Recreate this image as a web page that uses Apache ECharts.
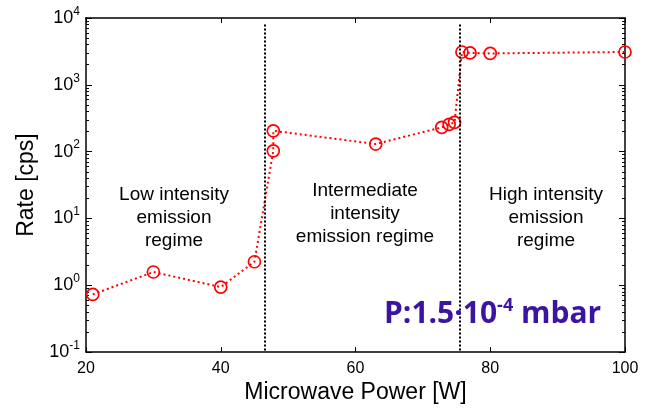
<!DOCTYPE html>
<html>
<head>
<meta charset="utf-8">
<script src="https://cdn.jsdelivr.net/npm/echarts@6/dist/echarts.min.js"></script>
<style>
  html, body { margin: 0; padding: 0; background: #fff; }
  #chart { width: 658px; height: 409px; }
</style>
</head>
<body>
<div id="chart"></div>
<script>
  // measured points (power in W, rate in cps)
  const powerW = [21, 30, 40, 45, 47.8, 47.8, 63, 72.8, 73.9, 74.7, 75.8, 77, 80, 100];
  const rateCps = [0.73, 1.58, 0.94, 2.25, 103, 205, 130, 231, 256, 274, 3100, 3000, 2950, 3100];
  // regime borders
  const dividerX = [46.5, 75.4];
  const dividerTop = 8000;

  const font = 'Liberation Sans, Arial, sans-serif';
  const black = '#000';

  let myChart = echarts.init(document.getElementById('chart'));

  let points = powerW.map((x, i) => [x, rateCps[i]]);

  // shared frame style
  let frameLine = { show: true, onZero: false, lineStyle: { color: black, width: 1.5 } };

  let option = {
    animation: false,
    grid: { left: 86, right: 33, top: 18, bottom: 55 },
    xAxis: [{
      type: 'value',
      min: 20, max: 100, interval: 20,
      position: 'bottom',
      name: 'Microwave Power [W]',
      nameLocation: 'middle',
      nameGap: 22,
      nameTextStyle: { fontFamily: font, fontSize: 23, color: black },
      axisLine: frameLine,
      axisTick: { show: true, inside: true, length: 5, lineStyle: { color: black } },
      axisLabel: { fontFamily: font, fontSize: 16, color: black, margin: 8 },
      splitLine: { show: false }
    }, {
      type: 'value',
      min: 20, max: 100, interval: 20,
      position: 'top',
      axisLine: frameLine,
      axisTick: { show: true, inside: true, length: 5, lineStyle: { color: black } },
      axisLabel: { show: false },
      splitLine: { show: false }
    }],
    yAxis: [{
      type: 'log',
      logBase: 10,
      min: 0.1, max: 10000,
      position: 'left',
      name: 'Rate [cps]',
      nameLocation: 'middle',
      nameGap: 47,
      nameRotate: 90,
      nameTextStyle: { fontFamily: font, fontSize: 23, color: black },
      axisLine: frameLine,
      axisTick: { show: true, inside: true, length: 6, lineStyle: { color: black } },
      minorTick: { show: true, splitNumber: 9, length: 3, lineStyle: { color: black } },
      axisLabel: {
        margin: 6,
        formatter: function (v) {
          let e = Math.round(Math.log10(v));
          return '{b|10}{s|' + e + '}';
        },
        rich: {
          b: { fontFamily: font, fontSize: 18, color: black },
          s: { fontFamily: font, fontSize: 12, color: black, padding: [0, 0, 13, 0] }
        }
      },
      splitLine: { show: false }
    }, {
      type: 'log',
      logBase: 10,
      min: 0.1, max: 10000,
      position: 'right',
      axisLine: frameLine,
      axisTick: { show: true, inside: true, length: 6, lineStyle: { color: black } },
      minorTick: { show: true, splitNumber: 9, length: 3, lineStyle: { color: black } },
      axisLabel: { show: false },
      splitLine: { show: false }
    }],
    series: [{
      type: 'line',
      xAxisIndex: 0,
      yAxisIndex: 0,
      data: points,
      symbol: 'circle',
      symbolSize: 12,
      itemStyle: { color: 'rgba(255,255,255,0)', borderColor: '#ff0000', borderWidth: 1.7 },
      lineStyle: { color: '#ff0000', width: 2, type: [2, 3] },
      z: 3,
      markLine: {
        silent: true,
        symbol: ['none', 'none'],
        label: { show: false },
        lineStyle: { color: black, width: 2, type: [2, 2] },
        data: dividerX.map(x => [{ coord: [x, dividerTop] }, { coord: [x, 0.1] }])
      }
    }],
    graphic: [{
      type: 'text', x: 174, y: 183, z: 10,
      style: { text: 'Low intensity\nemission\nregime', fontFamily: font, fontSize: 19, lineHeight: 23, align: 'center', fill: black }
    }, {
      type: 'text', x: 365, y: 179, z: 10,
      style: { text: 'Intermediate\nintensity\nemission regime', fontFamily: font, fontSize: 19, lineHeight: 23, align: 'center', fill: black }
    }, {
      type: 'text', x: 546, y: 183, z: 10,
      style: { text: 'High intensity\nemission\nregime', fontFamily: font, fontSize: 19, lineHeight: 23, align: 'center', fill: black }
    }, {
      type: 'text', left: 384, top: 297, z: 10,
      style: {
        text: '{m|P:1.5·10}{s|-4}{m| mbar}',
        rich: {
          m: { fontFamily: 'Open Sans', fontWeight: 'bold', fontSize: 30, fill: '#3b14a3' },
          s: { fontFamily: 'Open Sans', fontWeight: 'bold', fontSize: 18, fill: '#3b14a3', padding: [0, 0, 16, 0] }
        }
      }
    }]
  };
  myChart.setOption(option);
</script>
</body>
</html>
